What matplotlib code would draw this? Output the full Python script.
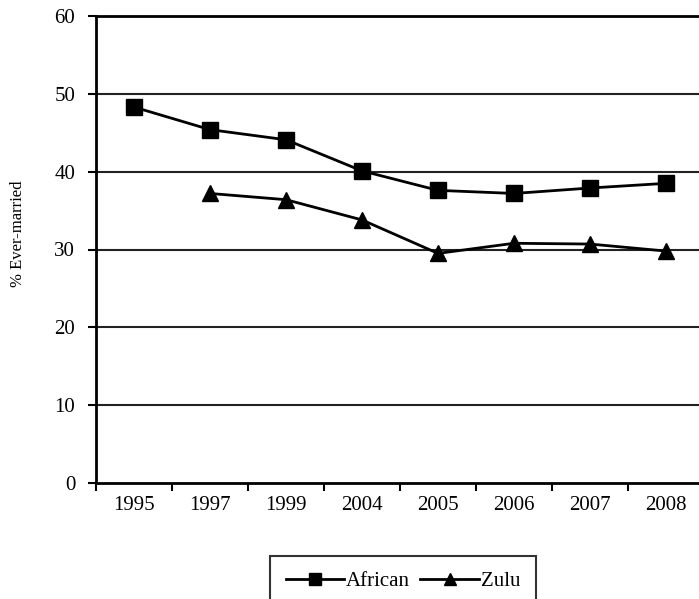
import matplotlib
matplotlib.use("Agg")
import matplotlib.pyplot as plt
import numpy as np

years = ["1995", "1997", "1999", "2004", "2005", "2006", "2007", "2008"]
african = [48.3, 45.4, 44.1, 40.1, 37.6, 37.2, 37.9, 38.5]
zulu = [np.nan, 37.2, 36.4, 33.8, 29.5, 30.8, 30.7, 29.8]
yticks = [0, 10, 20, 30, 40, 50, 60]

plt.rcParams['font.family'] = ['Liberation Serif', 'DejaVu Serif']

W, H = 699, 599
fig = plt.figure(figsize=(W / 100, H / 100), dpi=100)
ax = fig.add_axes([96 / W, (H - 483) / H, 608 / W, (483 - 16) / H])

x = np.arange(len(years))
ax.plot(x, african, color='black', lw=2, marker='s', ms=11.5, mfc='black', mec='black', label='African', clip_on=False)
ax.plot(x, zulu, color='black', lw=2, marker='^', ms=11.5, mfc='black', mec='black', label='Zulu', clip_on=False)

ax.set_xlim(-0.5, len(years) - 0.5)
ax.set_ylim(0, 60)
ax.set_yticks(yticks)
ax.set_yticklabels([str(v) for v in yticks], fontsize=15)
ax.set_xticks(np.arange(len(years) + 1) - 0.5)
ax.set_xticklabels([])
ax.set_xticks(x, minor=True)
ax.set_xticklabels(years, minor=True, fontsize=15)
ax.tick_params(axis='x', which='major', direction='out', length=6, width=1.5, color='black')
ax.tick_params(axis='x', which='minor', length=0, pad=9)
ax.tick_params(axis='y', direction='out', length=6, width=1.5, pad=9)

for v in yticks[1:]:
    ax.axhline(v, color='#222222', lw=1.5, zorder=0)

for s in ['left', 'bottom', 'top']:
    ax.spines[s].set_linewidth(2)
    ax.spines[s].set_color('black')
ax.spines['right'].set_visible(False)

fig.text(18 / W, 1 - 234 / H, '% Ever-married', rotation=90, fontsize=12, ha='center', va='center')

leg = ax.legend(loc='upper left', bbox_to_anchor=(270 / W, 1 - 556 / H), bbox_transform=fig.transFigure,
                borderaxespad=0, ncol=2, frameon=True, fancybox=False, edgecolor='black', fontsize=15,
                handlelength=2.8, markerscale=0.7, columnspacing=0.5, handletextpad=0.1,
                borderpad=0.75)
leg.get_frame().set_linewidth(1.5)

fig.savefig('out.png', dpi=100)
